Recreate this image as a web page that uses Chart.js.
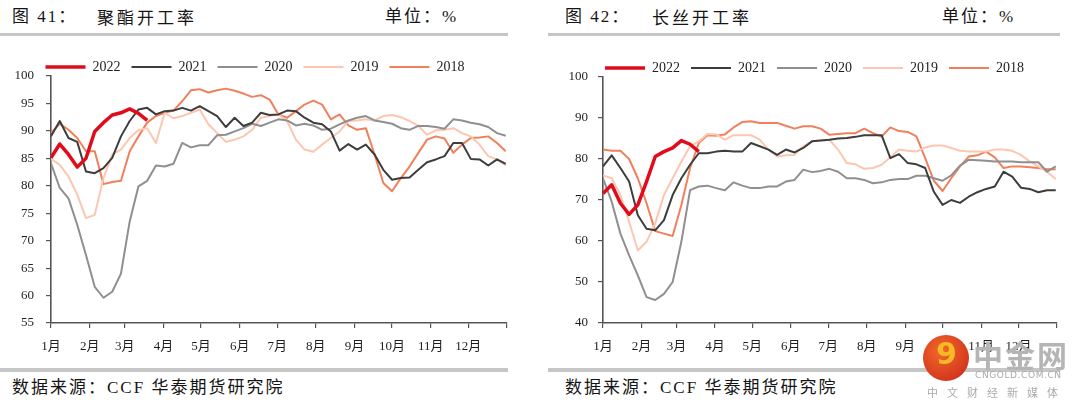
<!DOCTYPE html>
<html>
<head>
<meta charset="utf-8">
<script src="https://cdn.jsdelivr.net/npm/chart.js@4.4.1/dist/chart.umd.min.js"></script>
<style>
  body { margin: 0; width: 1080px; height: 407px; background: #fff; position: relative; overflow: hidden;
         font-family: "Liberation Serif", "Noto Sans CJK SC", serif; color: #151515; }
  .t { position: absolute; white-space: nowrap; font-size: 17px; line-height: 22px; letter-spacing: 2px; }
  .cn { font-family: "Noto Sans CJK SC", sans-serif; letter-spacing: 3px; }
  .rule { position: absolute; background: #c6c6c6; }
  canvas { position: absolute; }
  .wm { position: absolute; white-space: nowrap; font-family: "Noto Sans CJK SC", sans-serif; letter-spacing: 0; }
</style>
</head>
<body>
<!-- left panel -->
<div class="t" style="left:12px;top:6px">图 41：</div>
<div class="t cn" style="left:97px;top:6px">聚酯开工率</div>
<div class="t" style="left:385px;top:6px">单位：%</div>
<div class="rule" style="left:0;top:33px;width:508px;height:3px"></div>
<canvas id="polyester" width="530" height="320" style="left:0;top:39px;width:530px;height:320px"></canvas>
<div class="rule" style="left:0;top:368px;width:508px;height:4px"></div>
<div class="t" style="left:12px;top:377px">数据来源：CCF 华泰期货研究院</div>

<!-- right panel -->
<div class="t" style="left:565px;top:6px">图 42：</div>
<div class="t cn" style="left:652px;top:6px">长丝开工率</div>
<div class="t" style="left:942px;top:6px">单位：%</div>
<div class="rule" style="left:548px;top:33px;width:512px;height:3px"></div>
<canvas id="filament" width="532" height="319" style="left:548px;top:40px;width:532px;height:319px"></canvas>
<div class="rule" style="left:548px;top:368px;width:512px;height:4px"></div>
<div class="t" style="left:565px;top:377px">数据来源：CCF 华泰期货研究院</div>

<!-- watermark -->
<div class="wm" style="left:923px;top:335px;width:46px;height:46px;border-radius:50%;background:radial-gradient(circle at 40% 35%,#f26a2a,#c8231a);"></div>
<div class="wm" style="left:936px;top:336px;font:bold 30px 'DejaVu Sans';color:#f7b924;">9</div>
<div class="wm" style="left:973px;top:332px;font-size:30px;font-weight:bold;color:#b5b5b5;letter-spacing:2px;">中金网</div>
<div class="wm" style="left:975px;top:370px;font-size:9px;color:#aaa;letter-spacing:0.6px;font-family:'DejaVu Sans'">CNGOLD.COM.CN</div>
<div class="wm" style="left:927px;top:384px;font-size:11px;color:#aaa;letter-spacing:9px;">中文财经新媒体</div>

<script>
// weekly readings, one value per week starting at day 0 of the year
const years = ["2022", "2021", "2020", "2019", "2018"];
const monthStarts = [0, 31, 59, 90, 120, 151, 181, 212, 243, 273, 304, 334, 365];
const monthLabels = ["1月", "2月", "3月", "4月", "5月", "6月", "7月", "8月", "9月", "10月", "11月", "12月", ""];

// 聚酯开工率
const polyester2022 = [85.1, 87.6, 85.7, 83.4, 85.0, 89.9, 91.5, 92.9, 93.3, 94.0, 93.2, 91.9];
const polyester2021 = [89.0, 91.8, 88.7, 88.0, 82.6, 82.3, 83.2, 85.1, 89.0, 91.8, 93.9, 94.2, 93.0, 93.6, 93.7, 94.2, 93.7, 94.5, 93.6, 92.7,
  90.7, 92.4, 90.9, 91.5, 93.3, 92.9, 93.0, 93.7, 93.6, 92.4, 91.5, 91.2, 89.9, 86.4, 87.6, 86.6, 87.5, 85.7, 82.9, 81.1,
  81.4, 81.5, 82.9, 84.3, 84.8, 85.4, 87.8, 87.8, 84.9, 84.8, 83.7, 84.8, 84.0];
const polyester2020 = [84.1, 79.6, 77.7, 72.9, 67.4, 61.6, 59.6, 60.7, 64.0, 73.5, 79.9, 80.9, 83.7, 83.5, 84.0, 87.8, 87.0, 87.4, 87.4, 89.2,
  89.3, 89.9, 90.5, 91.3, 90.9, 91.5, 92.1, 91.9, 91.0, 91.3, 91.0, 90.2, 90.4, 91.2, 91.9, 92.4, 92.7, 91.9, 91.6, 91.3,
  90.5, 90.2, 90.9, 90.9, 90.7, 90.4, 92.1, 91.9, 91.5, 91.2, 90.7, 89.6, 89.1];
const polyester2019 = [84.9, 83.8, 81.7, 78.4, 74.1, 74.7, 81.4, 85.7, 86.6, 88.7, 90.1, 90.5, 87.8, 93.3, 92.3, 92.7, 93.3, 93.9, 91.2, 89.6,
  88.0, 88.4, 89.0, 90.2, 92.4, 92.7, 93.0, 91.8, 88.4, 86.6, 86.2, 87.5, 88.7, 89.9, 91.8, 91.9, 92.1, 91.9, 92.7, 92.9,
  92.5, 91.8, 90.9, 89.3, 90.1, 90.2, 90.5, 89.6, 89.0, 87.5, 85.4, 84.8, 83.7];
const polyester2018 = [89.6, 91.3, 90.2, 88.7, 86.3, 86.3, 80.3, 80.7, 80.9, 86.3, 89.0, 91.5, 92.7, 93.3, 93.7, 95.4, 97.4, 97.6, 97.0, 97.4,
  97.7, 97.3, 96.8, 96.2, 96.5, 95.7, 93.0, 92.4, 93.6, 94.8, 95.5, 94.8, 92.1, 93.0, 91.0, 90.2, 90.5, 85.7, 80.5, 79.0,
  81.4, 83.5, 86.0, 88.4, 89.0, 88.6, 86.0, 87.5, 88.7, 88.8, 89.0, 87.8, 86.3];

// 长丝开工率
const filament2022 = [71.6, 73.7, 69.2, 66.5, 68.8, 74.5, 80.6, 81.8, 82.7, 84.5, 83.6, 81.8];
const filament2021 = [78.2, 80.9, 77.8, 74.5, 66.3, 63.0, 62.6, 65.1, 71.2, 75.3, 78.6, 81.4, 81.4, 81.8, 82.0, 81.8, 81.8, 83.9, 83.1, 82.3,
  81.0, 82.3, 81.6, 82.7, 84.3, 84.5, 84.7, 85.0, 85.1, 85.4, 85.8, 85.8, 85.8, 80.2, 81.2, 79.0, 78.7, 77.8, 72.0, 68.8,
  70.0, 69.3, 70.8, 71.9, 72.7, 73.3, 76.9, 75.7, 73.0, 72.7, 71.9, 72.4, 72.4];
const filament2020 = [75.3, 69.6, 61.8, 56.5, 51.6, 46.3, 45.6, 47.1, 50.0, 59.8, 72.4, 73.3, 73.5, 72.9, 72.4, 74.3, 73.5, 72.9, 72.9, 73.3,
  73.3, 74.5, 74.9, 77.4, 76.8, 77.1, 77.6, 76.9, 75.3, 75.3, 74.9, 74.1, 74.3, 74.9, 75.1, 75.1, 75.9, 75.9, 75.3, 74.7,
  76.0, 78.4, 79.8, 79.7, 79.6, 79.4, 79.4, 79.4, 79.2, 79.2, 79.2, 76.9, 78.2];
const filament2019 = [76.0, 75.3, 71.2, 64.7, 57.7, 59.8, 64.3, 71.2, 75.3, 79.4, 83.1, 84.3, 86.1, 86.0, 84.7, 85.8, 85.8, 85.8, 84.7, 82.3,
  80.6, 80.9, 81.0, 83.1, 84.3, 84.5, 84.7, 82.3, 79.0, 78.7, 77.6, 77.8, 78.6, 80.4, 82.3, 82.0, 81.8, 82.8, 83.3, 83.3,
  82.7, 82.0, 81.8, 81.8, 81.8, 82.3, 82.3, 82.0, 81.0, 79.4, 78.2, 76.9, 75.1];
const filament2018 = [82.3, 82.0, 82.0, 80.0, 75.3, 69.2, 62.4, 61.8, 61.2, 68.8, 77.8, 83.9, 85.8, 85.7, 86.0, 87.7, 89.0, 89.2, 88.8, 88.8,
  88.8, 88.1, 87.4, 88.0, 88.0, 87.4, 85.9, 86.1, 86.3, 86.3, 87.4, 86.3, 85.5, 87.7, 86.8, 86.6, 85.5, 80.2, 74.7, 72.2,
  75.3, 78.2, 80.6, 80.9, 81.8, 80.4, 77.8, 78.2, 78.2, 78.0, 77.8, 77.5, 77.5];

const lineColors = ["#e10b1c", "#3d3d3d", "#8f8f8f", "#fcc6b0", "#f0805c"];
const lineWidths = [3.5, 2, 2, 2, 2];
const textColor = "#1e1e1e";
const axisColor = "#555";

// move the legend a little from where Chart.js puts it
const legendNudge = {
  id: "legendNudge",
  afterLayout(chart, args, opts) {
    const lg = chart.legend;
    if (!lg) return;
    lg.top += opts.dy;
    lg.bottom += opts.dy;
    lg.left += opts.dx;
    lg.right += opts.dx;
  },
};

function weekly(values) {
  return values.map((v, i) => ({ x: i * 7, y: v }));
}

function makeChart(id, seriesList, yMin, yMax, yStep, pad, yWidth, labelPad, legendDx) {
  const datasets = seriesList.map((values, i) => ({
    label: years[i],
    data: weekly(values),
    borderColor: lineColors[i],
    backgroundColor: lineColors[i],
    borderWidth: lineWidths[i],
    pointRadius: 0,
    tension: 0,
    borderJoinStyle: "round",
  }));

  new Chart(document.getElementById(id), {
    type: "line",
    data: { datasets },
    plugins: [legendNudge],
    options: {
      responsive: false,
      animation: false,
      devicePixelRatio: 1,
      layout: { padding: { left: pad.left, right: pad.right, top: pad.top, bottom: 0 } },
      plugins: {
        legendNudge: { dy: 8, dx: legendDx },
        tooltip: { enabled: false },
        legend: {
          position: "top",
          labels: {
            usePointStyle: true,
            pointStyle: "line",
            pointStyleWidth: 40,
            boxHeight: 14,
            padding: 11,
            color: textColor,
            font: { family: "Liberation Serif", size: 14 },
          },
        },
      },
      scales: {
        x: {
          type: "linear",
          min: 0,
          max: 365,
          afterBuildTicks(scale) {
            scale.ticks = monthStarts.map((d) => ({ value: d }));
          },
          afterFit(scale) {
            scale.height = 36;
          },
          ticks: {
            autoSkip: false,
            maxRotation: 0,
            padding: 11,
            color: textColor,
            font: { family: "Liberation Serif, Noto Sans CJK SC", size: 13 },
            callback: (value, index) => monthLabels[index],
          },
          grid: { drawOnChartArea: false, drawTicks: true, tickLength: 5, color: axisColor, lineWidth: 1.2 },
          border: { display: true, color: axisColor, width: 1.6 },
        },
        y: {
          min: yMin,
          max: yMax,
          afterFit(scale) {
            scale.width = yWidth;
          },
          ticks: {
            stepSize: yStep,
            padding: labelPad,
            color: textColor,
            font: { family: "Liberation Serif", size: 13 },
          },
          grid: { drawOnChartArea: false, drawTicks: true, tickLength: 5, color: axisColor, lineWidth: 1.2 },
          border: { display: true, color: axisColor, width: 1.6 },
        },
      },
    },
  });
}

window.addEventListener("DOMContentLoaded", function () {
  makeChart("polyester",
    [polyester2022, polyester2021, polyester2020, polyester2019, polyester2018],
    55, 100, 5, { left: 3, right: 23, top: 2 }, 48, 12, 0);
  makeChart("filament",
    [filament2022, filament2021, filament2020, filament2019, filament2018],
    40, 100, 10, { left: 10, right: 23, top: 2 }, 45, 10, 7);
});
</script>
</body>
</html>
